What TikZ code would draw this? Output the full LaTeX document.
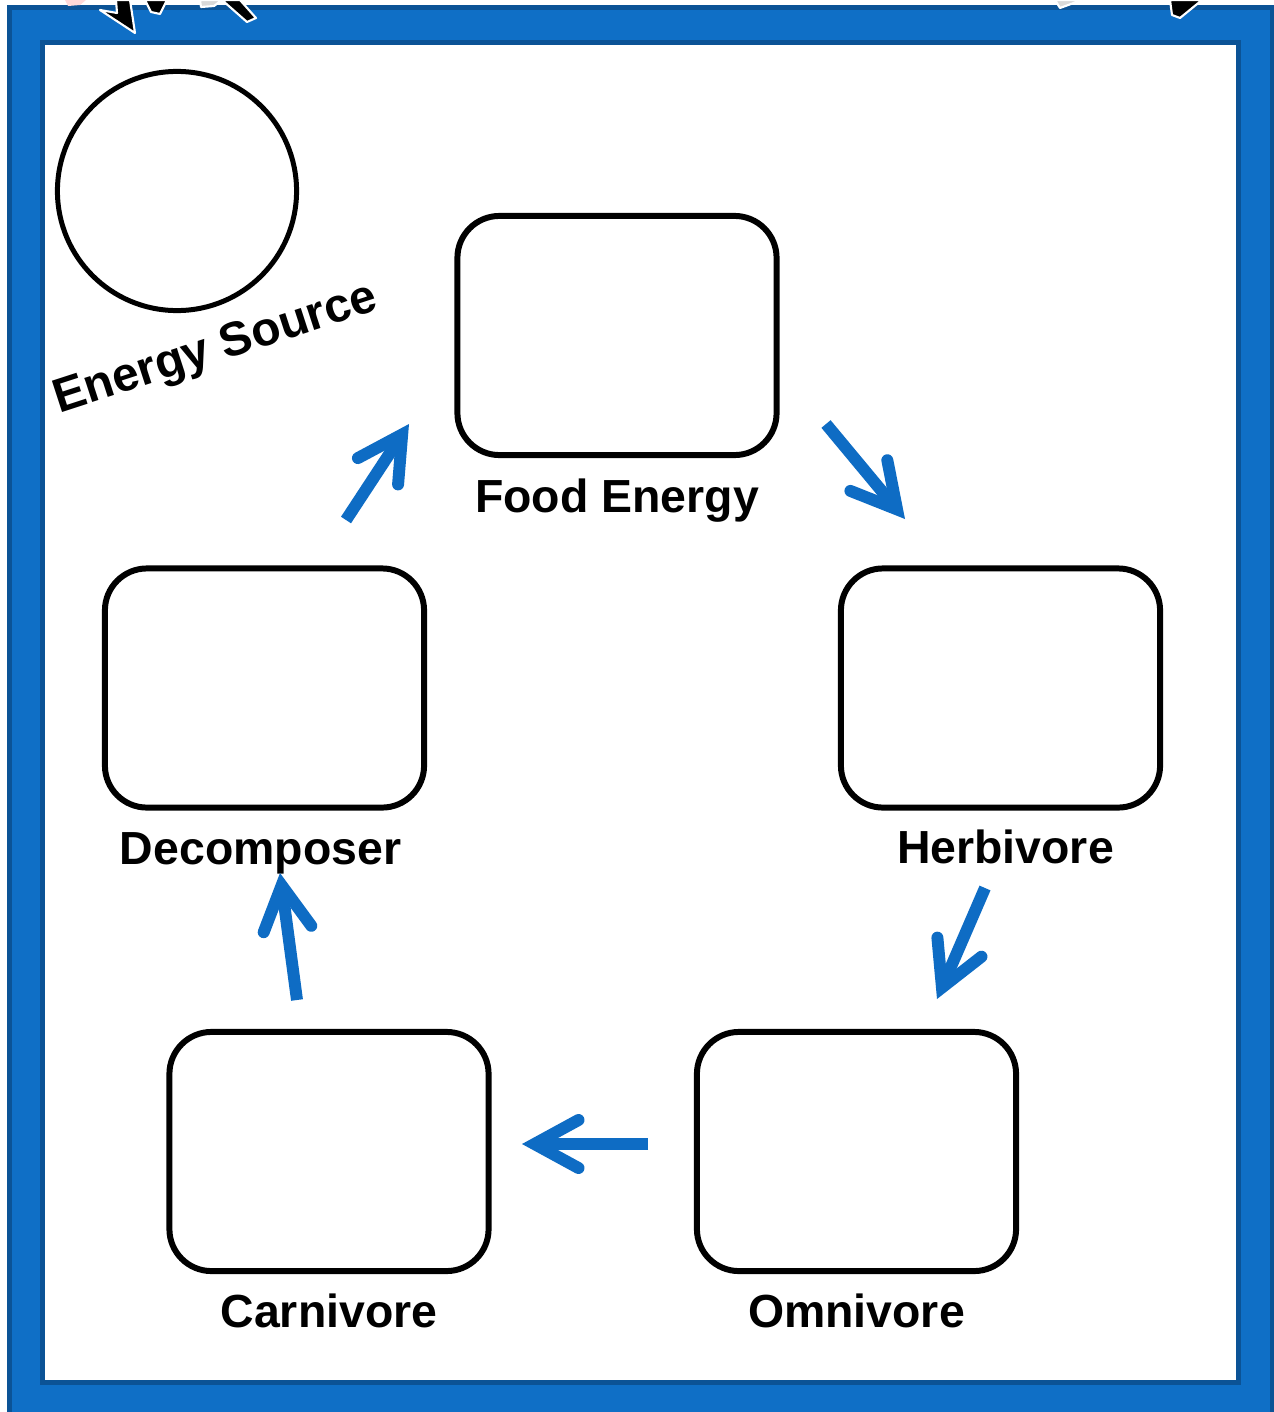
\documentclass[tikz,border=0pt]{standalone}
\usepackage{fontspec}
\setmainfont{Liberation Sans}
\usetikzlibrary{positioning,arrows.meta}

\definecolor{frameblue}{HTML}{0F6FC6}
\definecolor{framedark}{HTML}{0B5396}
\definecolor{arrowblue}{HTML}{0E6CC4}

\tikzset{
	stage/.style={draw, line width=1.7pt, rounded corners=0.42cm, minimum width=3.19cm, minimum height=2.39cm, inner sep=0pt},
	lbl/.style={font=\fontsize{13.2}{15}\selectfont\bfseries, inner sep=0pt},
	flow/.style={arrowblue, line width=3.4pt, -{Straight Barb[length=0.44cm, width=0.48cm, line cap=round, line join=miter]}},
	sticker/.style={fill=black, draw=white, line width=0.6pt, line join=round}
}

\begin{document}
\begin{tikzpicture}[x=0.01cm, y=-0.01cm]
	\useasboundingbox (0,0) rectangle (1274,1412);
	
	%FRAME
	\fill[white] (0,0) rectangle (1274,1412);
	\draw[framedark, fill=frameblue, line width=1.42pt] (9.5,7.5) rectangle (1272,1430);
	\draw[framedark, fill=white, line width=1.42pt] (42.5,42.5) rectangle (1238,1382);
	
	%STICKER BITS AT THE TOP
	\fill[pink!60] (65,0) -- (86,0) -- (80,5) -- (68,6) -- cycle;
	\draw[sticker] (100,10) -- (117,13) -- (116,0) -- (130,0) -- (135,33) -- cycle;
	\draw[sticker] (145,0) -- (167,0) -- (160,14) -- (151,12) -- cycle;
	\draw[sticker, fill=gray!30] (200,0) -- (222,0) -- (214,6) -- (201,7) -- cycle;
	\draw[sticker] (222,0) -- (240,0) -- (256,18) -- (247,22) -- cycle;
	\draw[sticker, fill=gray!30] (1055,0) -- (1082,0) -- (1060,8) -- cycle;
	\draw[sticker] (1170,0) -- (1202,0) -- (1180,18) -- (1172,15) -- cycle;
	
	%ENERGY SOURCE
	\node[draw, circle, line width=1.42pt, minimum size=2.39cm, inner sep=0pt] (sun) at (177,191) {};
	\node[lbl, rotate=18, font=\fontsize{13.6}{15}\selectfont\bfseries] (sunlbl) at (216,350) {Energy Source};
	
	%BOXES
	\node[stage] (food) at (617,335.5) {};
	\node[stage] (herb) at (1000.5,688) {};
	\node[stage] (omni) at (856.5,1151.5) {};
	\node[stage] (carn) at (329,1151.5) {};
	\node[stage] (deco) at (264.5,688) {};
	
	%LABELS
	\node[lbl, below=0.2cm of food] (foodlbl) {Food Energy};
	\node[lbl, below=0.19cm of herb, xshift=0.05cm] (herblbl) {Herbivore};
	\node[lbl, below=0.19cm of omni] (omnilbl) {Omnivore};
	\node[lbl, below=0.19cm of carn] (carnlbl) {Carnivore};
	\node[lbl, below=0.21cm of deco, xshift=-0.04cm] (decolbl) {Decomposer};
	
	%ARROWS
	\coordinate (deco-out) at (346,520);  \coordinate (food-in) at (409,424);
	\coordinate (food-out) at (826,424);  \coordinate (herb-in) at (905,519);
	\coordinate (herb-out) at (985,888);  \coordinate (omni-in) at (937,999);
	\coordinate (omni-out) at (648,1144); \coordinate (carn-in) at (522,1144);
	\coordinate (carn-out) at (297,1000); \coordinate (deco-in) at (280,873);
	\draw[flow] (deco-out) -- (food-in);
	\draw[flow] (food-out) -- (herb-in);
	\draw[flow] (herb-out) -- (omni-in);
	\draw[flow] (omni-out) -- (carn-in);
	\draw[flow] (carn-out) -- (deco-in);
\end{tikzpicture}
\end{document}
